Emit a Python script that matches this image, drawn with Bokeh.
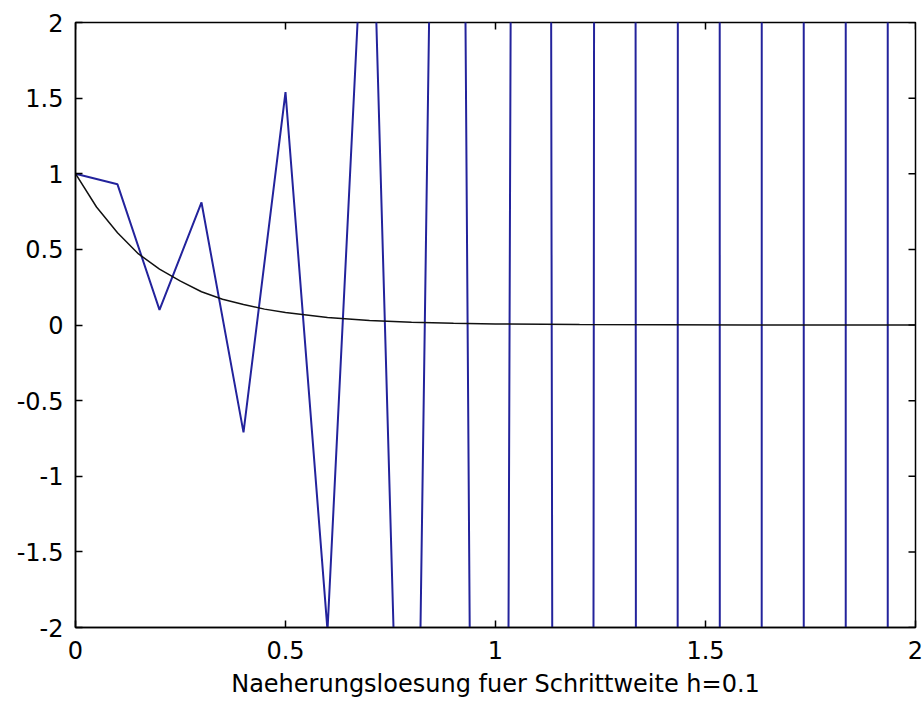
import math
from bokeh.plotting import figure
from bokeh.models import Range1d, FixedTicker
from bokeh.embed import file_html
from bokeh.resources import INLINE

# Euler approximation (h = 0.1)
x_euler = [0.0, 0.1, 0.2, 0.3, 0.4, 0.5, 0.6, 0.7, 0.8, 0.9, 1.0,
           1.1, 1.2, 1.3, 1.4, 1.5, 1.6, 1.7, 1.8, 1.9, 2.0]
y_euler = [1.0, 0.93, 0.1, 0.81, -0.71, 1.54, -2.02, 3.6, -6.2, 13.4, -26.5,
           52.6, -103.0, 200.0, -390.0, 760.0, -1480.0, 2890.0, -5630.0, 10980.0, -21400.0]

# exact solution curve
x_exact = [0.0, 0.05, 0.1, 0.15, 0.2, 0.25, 0.3, 0.35, 0.4, 0.45, 0.5,
           0.6, 0.7, 0.8, 0.9, 1.0, 1.2, 1.4, 1.6, 1.8, 2.0]
y_exact = [1.0, 0.78, 0.61, 0.47, 0.37, 0.29, 0.22, 0.17, 0.135, 0.105, 0.082,
           0.05, 0.03, 0.018, 0.011, 0.007, 0.0025, 0.001, 0.0003, 0.0001, 0.0]

x_ticks = [0, 0.5, 1, 1.5, 2]
y_ticks = [-2, -1.5, -1, -0.5, 0, 0.5, 1, 1.5, 2]
x_label = "Naeherungsloesung fuer Schrittweite h=0.1"

FONT = "DejaVu Sans"
FS = "24px"
TICK = 7

p = figure(width=924, height=704, output_backend="svg", toolbar_location=None,
           x_range=Range1d(x_ticks[0], x_ticks[-1]), y_range=Range1d(y_ticks[0], y_ticks[-1]),
           min_border_left=75, min_border_right=9, min_border_top=22, min_border_bottom=77)
p.background_fill_color = "white"
p.border_fill_color = "white"
p.outline_line_color = "black"
p.outline_line_width = 1.5
p.xgrid.visible = False
p.ygrid.visible = False

for ax in (p.xaxis[0], p.yaxis[0]):
    ax.axis_line_color = "black"
    ax.axis_line_width = 1.5
    ax.major_tick_in = TICK
    ax.major_tick_out = 0
    ax.major_tick_line_color = "black"
    ax.major_tick_line_width = 1.5
    ax.minor_tick_line_color = None
    ax.major_label_text_font = FONT
    ax.major_label_text_font_size = FS
    ax.major_label_text_color = "black"

p.xaxis.ticker = FixedTicker(ticks=x_ticks)
p.yaxis.ticker = FixedTicker(ticks=y_ticks)
p.xaxis.major_label_overrides = {t: f"{t:g}" for t in x_ticks}
p.yaxis.major_label_overrides = {t: f"{t:g}" for t in y_ticks}
p.xaxis.major_label_standoff = 13
p.yaxis.major_label_standoff = 12
p.xaxis.axis_label = x_label
p.xaxis.axis_label_text_font = FONT
p.xaxis.axis_label_text_font_size = FS
p.xaxis.axis_label_text_font_style = "normal"
p.xaxis.axis_label_text_color = "black"
p.xaxis.axis_label_standoff = 8

# mirrored inward ticks on top and right edges of the box
p.ray(x=x_ticks, y=[y_ticks[-1]] * len(x_ticks), length=TICK, length_units="screen",
      angle=-math.pi / 2, line_color="black", line_width=1.5)
p.ray(x=[x_ticks[-1]] * len(y_ticks), y=y_ticks, length=TICK, length_units="screen",
      angle=math.pi, line_color="black", line_width=1.5)

p.line(x_euler, y_euler, line_color="#23239c", line_width=2)
p.line(x_exact, y_exact, line_color="#111111", line_width=1.5)

open("out.html", "w").write(file_html(p, INLINE))
